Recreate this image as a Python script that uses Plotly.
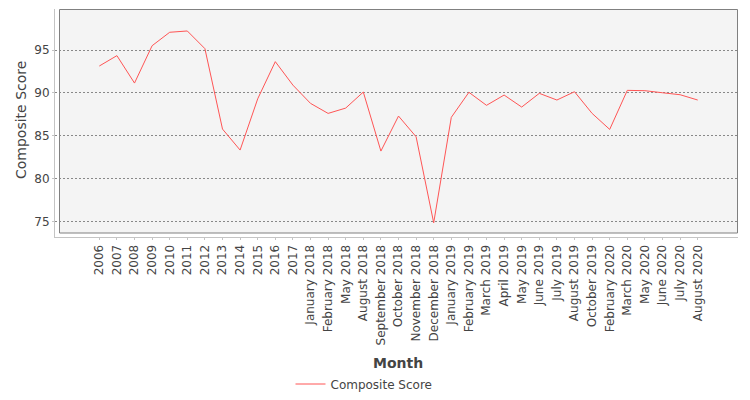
import plotly.graph_objects as go

months = ["2006", "2007", "2008", "2009", "2010", "2011", "2012", "2013", "2014", "2015",
          "2016", "2017", "January 2018", "February 2018", "May 2018", "August 2018",
          "September 2018", "October 2018", "November 2018", "December 2018",
          "January 2019", "February 2019", "March 2019", "April 2019", "May 2019",
          "June 2019", "July 2019", "August 2019", "October 2019", "February 2020",
          "March 2020", "May 2020", "June 2020", "July 2020", "August 2020"]
composite_score = [93.13, 94.34, 91.14, 95.5, 97.07, 97.22, 95.16, 85.77, 83.32, 89.3,
                   93.64, 90.9, 88.77, 87.6, 88.22, 90.09, 83.2, 87.29, 84.87, 74.83,
                   87.14, 90.06, 88.54, 89.74, 88.34, 89.94, 89.16, 90.13, 87.6, 85.73,
                   90.29, 90.25, 90.01, 89.78, 89.16]
y_ticks = [75, 80, 85, 90, 95]

# page has an 8px body margin; figure sized so no scrollbars appear
OFF = 8
W, H = 734, 384
# plot area in page pixels
PX0, PX1, PY0, PY1 = 55, 738, 9, 237
L, R, T, B = PX0 - OFF, W - (PX1 - OFF), PY0 - OFF, H - (PY1 - OFF)
pw, ph = PX1 - PX0, PY1 - PY0


def px(x):
    return (x - PX0) / pw


def py(y):
    return (PY1 - y) / ph


fig = go.Figure()
fig.add_trace(go.Scatter(
    x=list(range(len(months))), y=composite_score, mode="lines",
    name="Composite Score", line=dict(color="#ff5555", width=1),
))

font = "DejaVu Sans"
txt = "#444444"

fig.update_layout(
    width=W, height=H,
    margin=dict(l=L, r=R, t=T, b=B, autoexpand=False),
    paper_bgcolor="white", plot_bgcolor="white",
    font=dict(family=font, size=12, color=txt),
    xaxis=dict(
        range=[(PX0 - 99.3) / 17.6, (PX1 - 99.3) / 17.6], tickmode="array",
        tickvals=list(range(len(months))), ticktext=months,
        tickangle=-90, showgrid=False, zeroline=False,
        showline=True, linecolor="#c4c4c4", linewidth=1,
        ticks="outside", ticklen=2, tickcolor="#c4c4c4",
        tickfont=dict(family=font, size=12, color=txt), automargin=False,
    ),
    yaxis=dict(
        range=[95 - (PY1 - 50) / 8.567, 95 + (50 - PY0) / 8.567],
        tickmode="array", tickvals=y_ticks,
        showgrid=True, gridcolor="#888888", griddash="2px,2px", gridwidth=1,
        zeroline=False, showline=True, linecolor="#c4c4c4", linewidth=1,
        ticks="outside", ticklen=2, tickcolor="#c4c4c4",
        tickfont=dict(family=font, size=12, color=txt), automargin=False,
    ),
    showlegend=True,
    legend=dict(orientation="h", x=px(364), xanchor="center", y=py(384), yanchor="middle",
                font=dict(family=font, size=12, color=txt), itemwidth=30,
                bgcolor="rgba(0,0,0,0)"),
    shapes=[
        dict(type="rect", xref="paper", yref="paper", x0=px(59.5), x1=px(738), y0=py(233), y1=1,
             fillcolor="#f4f4f4", line=dict(width=0), layer="below"),
        dict(type="rect", xref="paper", yref="paper", x0=px(56), x1=px(59.5), y0=0, y1=1,
             fillcolor="white", line=dict(width=0), layer="between"),
        dict(type="rect", xref="paper", yref="paper", x0=px(56), x1=1, y0=py(236.5), y1=py(233),
             fillcolor="white", line=dict(width=0), layer="between"),
        dict(type="rect", xref="paper", yref="paper", x0=px(59.5), x1=px(737.5), y0=py(233), y1=py(9.5),
             fillcolor="rgba(0,0,0,0)", line=dict(color="#808080", width=1), layer="between"),
    ],
    annotations=[
        dict(text="Composite Score", xref="paper", yref="paper",
             x=px(20.5), y=py(120.5), textangle=-90,
             showarrow=False, font=dict(family=font, size=14, color=txt),
             xanchor="center", yanchor="middle"),
        dict(text="<b>Month</b>", xref="paper", yref="paper",
             x=px(398.5), y=py(363), showarrow=False,
             font=dict(family=font, size=14, color=txt),
             xanchor="center", yanchor="middle"),
    ],
)

fig.write_html("out.html")
